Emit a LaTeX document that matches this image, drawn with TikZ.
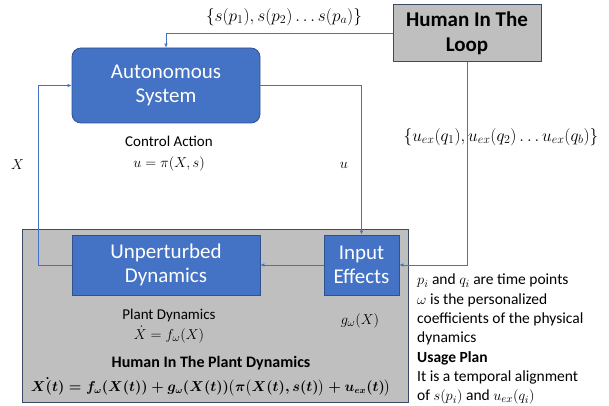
\documentclass[tikz,border=0pt]{standalone}
\usepackage{amsmath,amssymb}
\usepackage{fontspec}
\setmainfont{Carlito}
\usepackage{tikz}
\usetikzlibrary{positioning}
\usetikzlibrary{arrows.meta}
\definecolor{boxblue}{HTML}{4472C4}
\definecolor{boxedge}{HTML}{2F528F}
\definecolor{boxgray}{HTML}{BFBFBF}
\definecolor{grayedge}{HTML}{3B4A66}
\newcommand{\plantEq}{\mbox{\boldmath$\dot{X(t)}=f_{\omega}(X(t))+g_{\omega}(X(t))\bigl(\pi\bigl(X(t),s(t)\bigr)+u_{ex}(t)\bigr)$}}

\begin{document}
\begin{tikzpicture}[x=1pt,y=-1pt]
          \tikzstyle{every node}=[inner sep=1pt,font=\fontsize{15.5}{19.3}\selectfont]
          \tikzstyle{block}=[draw=boxedge,fill=boxblue,text=white,line width=0.8pt,
                             align=center,font=\fontsize{21}{24}\selectfont]
          \tikzstyle{graybox}=[draw=grayedge,fill=boxgray,line width=0.8pt]
          \tikzstyle{link}=[draw=boxblue,line width=0.6pt,
                            -{Latex[length=4pt,width=3.5pt]}]
          \useasboundingbox (0,0) rectangle (609,406);
          % 
          \node [graybox,minimum width=386,minimum height=173] (plant) at (215,315.5) {};
          \node [graybox,minimum width=148,minimum height=57,align=center,
                 font=\fontsize{21}{25}\selectfont\bfseries] (human) at (467,33) {Human In The\\Loop};
          \node [block,rounded corners=9pt,minimum width=188,minimum height=75] (auto) at (166,85.5) {Autonomous\\System};
          \node [block,minimum width=188,minimum height=60] (unpert) at (166,265) {Unperturbed\\Dynamics};
          \node [block,minimum width=75,minimum height=60] (input) at (361.5,265) {Input\\Effects};
          \coordinate (fb) at (38,265);
          % 
          \path[link]
          (human.west)  -| (auto.north);
          \path[link]
          (auto.east)   -| (input.north);
          \path[link]
          (human.south) |- (input.east);
          \path[link]
          (input.west)  -- (unpert.east);
          \path[link]
          (unpert.west) -- (fb) |- (auto.west);
          % 
          \node [font=\fontsize{16.5}{19}\selectfont] (sset) at (284,17) {$\{s(p_1),s(p_2)\ldots s(p_a)\}$};
          \node [font=\fontsize{16.5}{19}\selectfont] (uset) at (501,137) {$\{u_{ex}(q_1),u_{ex}(q_2)\ldots u_{ex}(q_b)\}$};
          \node [align=center,font=\fontsize{15}{21}\selectfont] (ctrl) at (169,154) {Control Action\\$u=\pi(X,s)$};
          \node (xlab) at (17.5,165) {$X$};
          \node (ulab) at (344,165) {$u$};
          \node [align=center,font=\fontsize{15}{20}\selectfont] (pdyn) at (169,326) {Plant Dynamics\\$\dot{X}=f_{\omega}(X)$};
          \node (glab) at (360,321) {$g_{\omega}(X)$};
          \node [font=\fontsize{16}{19}\selectfont\bfseries] (hipd) at (211,363) {Human In The Plant Dynamics};
          \node [font=\fontsize{13.5}{19}\selectfont] (eqn) at (211,387) {\plantEq};
          \node [anchor=north west,align=left] (notes) at (416,273)
                {$p_i$ and $q_i$ are time points\\
                 $\omega$ is the personalized\\
                 coefficients of the physical\\
                 dynamics\\
                 \textbf{Usage Plan}\\
                 It is a temporal alignment\\
                 of $s(p_i)$ and $u_{ex}(q_i)$};
        \end{tikzpicture}
\end{document}
